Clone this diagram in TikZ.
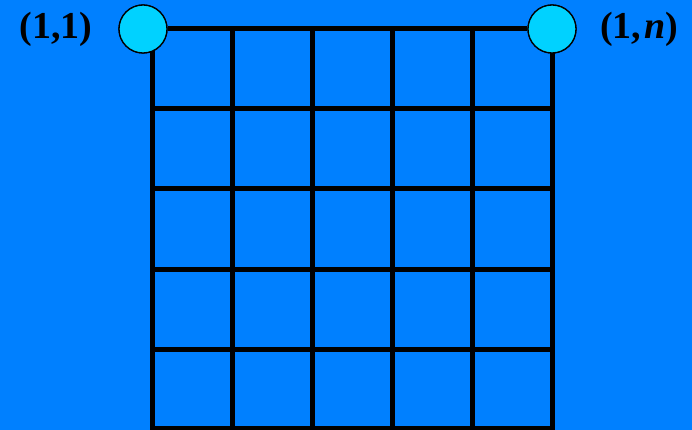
\documentclass[tikz,border=0pt]{standalone}
\usepackage{fontspec}
\setmainfont{Liberation Serif}
\definecolor{bgblue}{RGB}{0,128,255}
\definecolor{dotcyan}{RGB}{0,210,255}
\begin{document}
\begin{tikzpicture}[x=1pt,y=-1pt,
  gridline/.style={line width=5pt,black},
  corner/.style={circle,draw=black,line width=1.3pt,fill=dotcyan,minimum size=48pt,inner sep=0pt},
  lab/.style={font=\fontsize{38}{42}\selectfont\bfseries,text=black,inner sep=0pt}]
\fill[bgblue] (0,0) rectangle (692,430);
\useasboundingbox (0,0) rectangle (692,430);
% grid
\foreach \x in {152,232,312,392,472,552}
  \draw[gridline] (\x,29) -- (\x,432);
\foreach \y in {109,189,269,349,428}
  \draw[gridline] (152,\y) -- (552,\y);
\node[corner] (c11) at (143,29) {};
\node[corner] (c1n) at (552,29) {};
\draw[gridline] (c11) -- (c1n);
\node[corner] at (143,29) {};
\node[corner] at (552,29) {};
\node[lab] (l11) at (56,29) {(1,1)};
\node[lab] (l1n) at (639,29) {(1,\hspace{3pt}\textit{n})};
\end{tikzpicture}
\end{document}
